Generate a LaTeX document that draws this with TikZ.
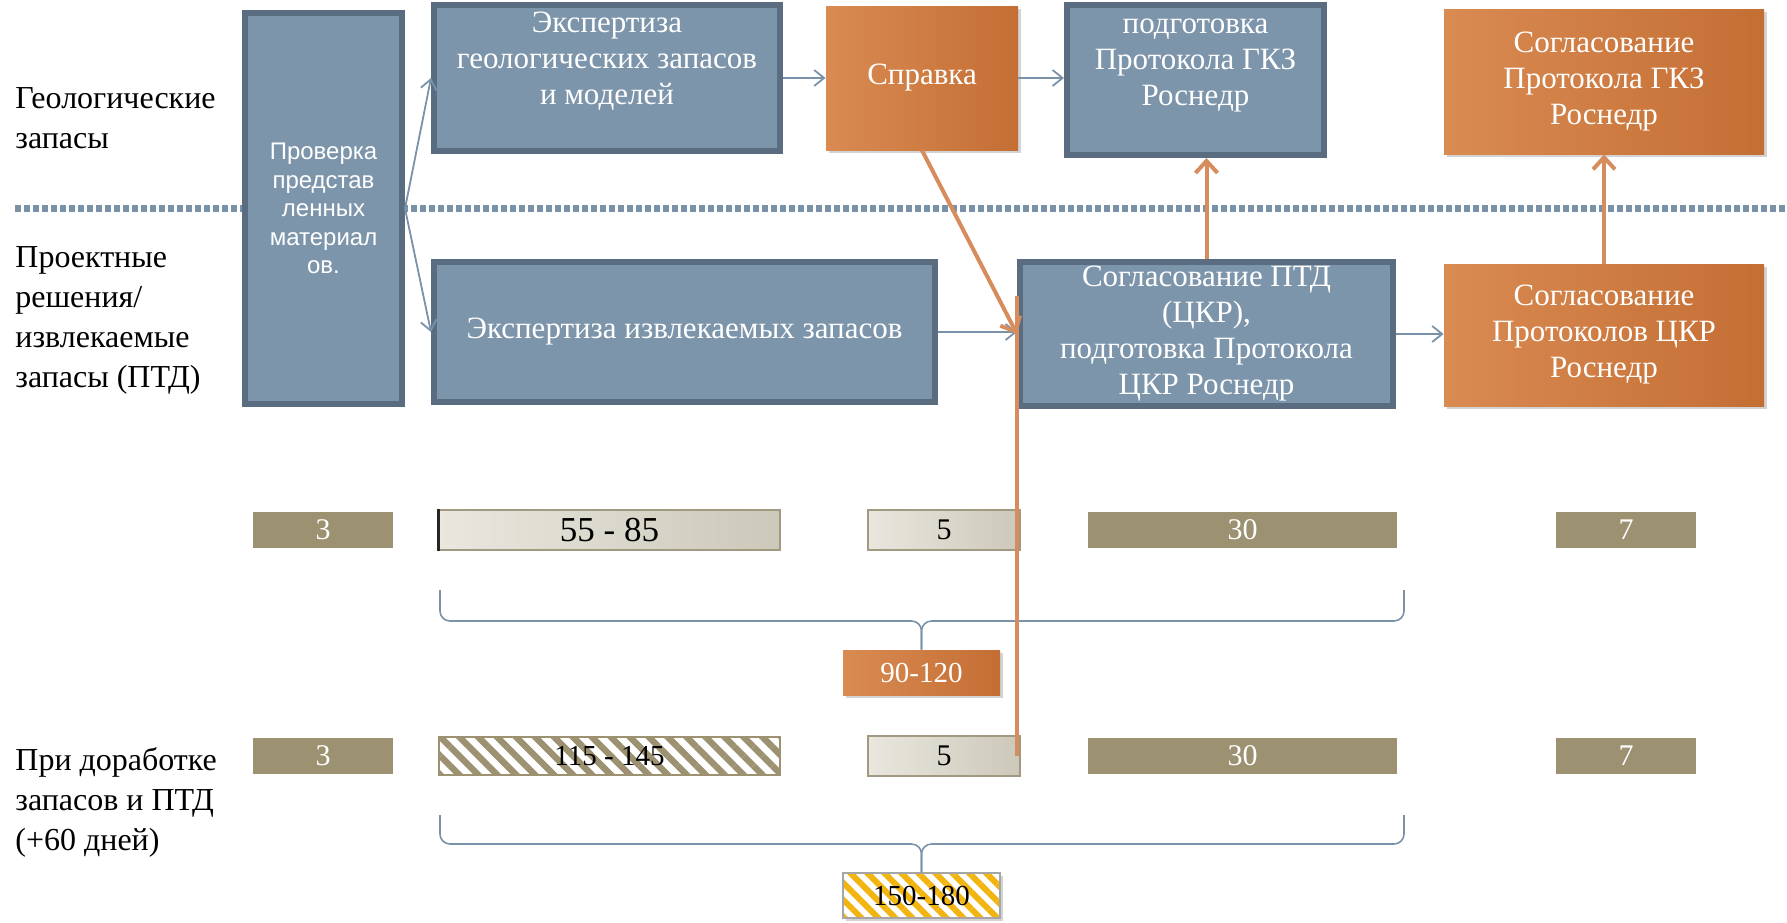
\documentclass[tikz,border=0pt]{standalone}
\usepackage{fontspec}
\setmainfont{Liberation Serif}
\setsansfont{Liberation Sans}
\usepackage{tikz}
\usetikzlibrary{arrows.meta}
\usetikzlibrary{patterns.meta}
\usetikzlibrary{shadows}
\usetikzlibrary{calc}
\definecolor{slatefill}{HTML}{7D95AB}
\definecolor{slateline}{HTML}{5A6D80}
\definecolor{arrowgray}{HTML}{7A92A8}
\definecolor{orangeL}{HTML}{D98B52}
\definecolor{orangeR}{HTML}{C46E34}
\definecolor{orangeline}{HTML}{D68C5C}
\definecolor{barolive}{HTML}{9C9170}
\definecolor{lightL}{HTML}{E9E7DE}
\definecolor{lightR}{HTML}{CCC8BA}
\definecolor{lightedge}{HTML}{A29A80}
\definecolor{stripeyellow}{HTML}{F2B50F}

\begin{document}
\begin{tikzpicture}[x=0.5pt,y=-0.5pt,
  slatebox/.style={draw=slateline, line width=3pt, fill=slatefill, text=white, align=center, inner sep=0pt, font=\fontsize{15.5}{18}\selectfont},
  boxtext/.style={text=white, align=center, inner sep=0pt, font=\fontsize{15.5}{18}\selectfont},
  orangebox/.style={left color=orangeL, right color=orangeR, text=white, align=center, inner sep=0pt, font=\fontsize{15.5}{18}\selectfont, drop shadow={opacity=0.35, shadow xshift=1.5pt, shadow yshift=-1.5pt}},
  sidelabel/.style={anchor=west, align=left, inner sep=0pt, font=\fontsize{16}{20}\selectfont},
  olivebar/.style={fill=barolive, text=white, inner sep=0pt, minimum height=18pt, font=\fontsize{15}{16}\selectfont},
  lightbar/.style={left color=lightL, right color=lightR, draw=lightedge, line width=0.6pt, inner sep=0pt, minimum height=20pt, font=\fontsize{15}{16}\selectfont},
  hatchbar/.style={pattern={Lines[angle=-45, distance=6.7pt, line width=3.2pt]}, pattern color=barolive, draw=barolive, line width=0.8pt, inner sep=0pt, minimum height=19pt, font=\fontsize{14.5}{16}\selectfont},
  flow/.style={draw=arrowgray, line width=0.9pt, -{Straight Barb[length=5pt, width=8pt]}},
  link/.style={draw=orangeline, line width=2pt, -{Straight Barb[length=6pt, width=11pt]}},
  bracket/.style={draw=arrowgray, line width=0.8pt, rounded corners=5pt}]
  \useasboundingbox (0,0) rectangle (1787,922);

  % separator between the two rows
  \draw[arrowgray, line width=3.5pt, dash pattern=on 3pt off 1.5pt] (15,208) -- (1787,208);

  \node[sidelabel] (lgeo) at (15,118) {Геологические\\запасы};
  \node[sidelabel] (lptd) at (15,320) {Проектные\\решения/\\извлекаемые\\запасы (ПТД)};
  \node[sidelabel] (lrework) at (15,802) {При доработке\\запасов и ПТД\\(+60 дней)};

  \node[slatebox, minimum width=78.5pt, minimum height=195.5pt, font=\sffamily\fontsize{12}{14.25}\selectfont] (prov) at (323.5,208.5) {Проверка\\представ\\ленных\\материал\\ов.};
  \node[slatebox, minimum width=173pt, minimum height=73pt] (geo) at (607,78) {};
  \node[boxtext] (geotext) at ($(geo.center)+(0,-17)$) {Экспертиза\\геологических запасов\\и моделей};
  \node[orangebox, minimum width=96pt, minimum height=72pt] (sprav) at (922,78) {Справка};
  \node[slatebox, minimum width=128.5pt, minimum height=75pt] (gkz) at (1195.5,80) {};
  \node[boxtext] (gkztext) at ($(gkz.center)+(0,-15)$) {подготовка\\Протокола ГКЗ\\Роснедр};
  \node[orangebox, minimum width=160pt, minimum height=72.5pt] (soggkz) at (1604,81.5) {Согласование\\Протокола ГКЗ\\Роснедр};

  \node[slatebox, minimum width=250.5pt, minimum height=70pt] (izvl) at (684.5,332) {Экспертиза извлекаемых запасов};
  \node[slatebox, minimum width=186.5pt, minimum height=72pt] (ptd) at (1206.5,334) {Согласование ПТД\\(ЦКР),\\подготовка Протокола\\ЦКР Роснедр};
  \node[orangebox, minimum width=160pt, minimum height=71pt] (ckr) at (1604,335) {Согласование\\Протоколов ЦКР\\Роснедр};

  \draw[flow] (prov.east) -- (geo.west);
  \draw[flow] (prov.east) -- (izvl.west);
  \draw[flow] (geo.east) -- (sprav.west);
  \draw[flow] (sprav.east) -- (sprav.east -| gkz.west);
  \draw[flow] (izvl.east) -- (izvl.east -| ptd.west);
  \draw[flow] (ptd.east) -- (ptd.east -| ckr.west);

  % durations
  \foreach \r/\yy in {1/530, 2/756} {
    \node[olivebar, minimum width=70pt] (d\r-3) at (323,\yy) {3};
    \node[lightbar, minimum width=76pt] (d\r-5) at (944,\yy) {5};
    \node[olivebar, minimum width=154.5pt] (d\r-30) at (1242.5,\yy) {30};
    \node[olivebar, minimum width=70pt] (d\r-7) at (1626,\yy) {7};
  }
  \node[lightbar, minimum width=170.5pt, font=\fontsize{17.5}{18}\selectfont] (d1-55) at (609.5,530) {55 - 85};
  \draw[black!85, line width=1.2pt] (d1-55.north west) -- (d1-55.south west);
  \node[hatchbar, minimum width=170.5pt] (d2-115) at (609.5,756) {115 - 145};

  \node[orangebox, minimum width=78.5pt, minimum height=22.5pt, font=\fontsize{14.5}{16}\selectfont] (s1) at (921.5,672.5) {90-120};
  \node[drop shadow={opacity=0.35, shadow xshift=1.5pt, shadow yshift=-1.5pt}, preaction={fill=white}, pattern={Lines[angle=-45, distance=6pt, line width=3pt]}, pattern color=stripeyellow, draw=gray!70, line width=0.6pt, inner sep=0pt, minimum width=78.5pt, minimum height=22.5pt, font=\fontsize{14.5}{16}\selectfont] (s2) at (921.5,895.5) {150-180};

  \coordinate (k1l) at (440,590);
  \coordinate (k1r) at (1404,590);
  \coordinate (k1m) at (921.5,621);
  \draw[bracket] (k1l) |- (k1m) -- (s1.north);
  \draw[bracket] (k1r) |- (k1m) -- (s1.north);
  \coordinate (k2l) at (440,815);
  \coordinate (k2r) at (1404,815);
  \coordinate (k2m) at (921.5,844);
  \draw[bracket] (k2l) |- (k2m) -- (s2.north);
  \draw[bracket] (k2r) |- (k2m) -- (s2.north);

  % orange links
  \draw[link] (sprav.south) -- (ptd.west);
  \coordinate (vtop) at ($(ptd.west)+(0,-38)$);
  \draw[orangeline, line width=2pt] (vtop) -- (vtop |- d2-5.east);
  \draw[link] (ptd.north) -- (ptd.north |- gkz.south);
  \draw[link] (ckr.north) -- (soggkz.south);
\end{tikzpicture}
\end{document}
